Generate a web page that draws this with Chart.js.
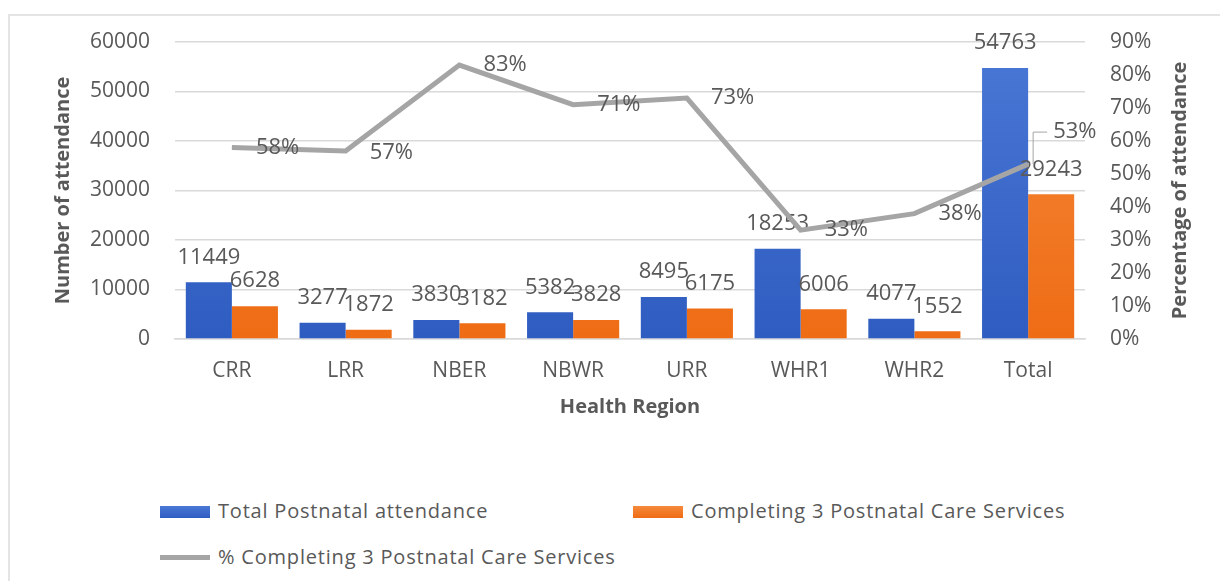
<!DOCTYPE html>
<html>
<head>
<meta charset="utf-8">
<script src="https://cdn.jsdelivr.net/npm/chart.js@4.4.0/dist/chart.umd.min.js"></script>
<style>
  body { margin: 0; background: #fff; font-family: 'Open Sans', sans-serif; color: #595959; }
  #frame { position: absolute; left: 8px; top: 14px; width: 1212px; height: 567px; border-top: 2px solid #e4e4e4; border-left: 2px solid #e4e4e4; }
  #wrap { position: absolute; left: 0; top: 0; width: 1220px; height: 430px; }
  .leg { position: absolute; font-size: 20px; letter-spacing: 0.8px; white-space: nowrap; line-height: 24px; }
  .sw { display: inline-block; width: 50px; height: 12px; vertical-align: middle; margin-right: 8px; position: relative; top: -1px; }
</style>
</head>
<body>
<div id="frame"></div>
<div id="wrap"><canvas id="chart"></canvas></div>
<div class="leg" style="left:160px; top:499px;"><span class="sw" style="background:linear-gradient(#4a78d6,#2f5cc0)"></span>Total Postnatal attendance</div>
<div class="leg" style="left:633px; top:499px;"><span class="sw" style="background:linear-gradient(#f68a3c,#ee6c14)"></span>Completing 3 Postnatal Care Services</div>
<div class="leg" style="left:160px; top:545px;"><span class="sw" style="background:#a5a5a5; height:5px"></span>% Completing 3 Postnatal Care Services</div>
<script>
var regions = ['CRR', 'LRR', 'NBER', 'NBWR', 'URR', 'WHR1', 'WHR2', 'Total']
var totalAttendance = [11449, 3277, 3830, 5382, 8495, 18253, 4077, 54763]
var completing = [6628, 1872, 3182, 3828, 6175, 6006, 1552, 29243]
var pctCompleting = [58, 57, 83, 71, 73, 33, 38, 53]
var leftTicks = [0, 10000, 20000, 30000, 40000, 50000, 60000]
var rightTicks = [0, 10, 20, 30, 40, 50, 60, 70, 80, 90]

var textColor = '#595959'
var labelFont = '22px "Open Sans"'

function barFill(top, bottom) {
    return function(c) {
        var ca = c.chart.chartArea
        if (!ca) return bottom
        var g = c.chart.ctx.createLinearGradient(0, ca.top, 0, ca.bottom)
        g.addColorStop(0, top)
        g.addColorStop(1, bottom)
        return g
    }
}

// bar value labels: drawn after the bars, before the line (blue first, orange on top)
var barLabels = {
    id: 'barLabels',
    beforeDatasetDraw: function(chart, args) {
        if (chart.data.datasets[args.index].type !== 'line') return
        var ctx = chart.ctx
        ctx.save()
        ctx.font = labelFont
        ctx.fillStyle = textColor
        ctx.textAlign = 'center'
        ctx.textBaseline = 'middle'
        chart.data.datasets.forEach(function(ds, di) {
            if (ds.type !== 'bar') return
            chart.getDatasetMeta(di).data.forEach(function(bar, i) {
                ctx.fillText(ds.data[i], bar.x, bar.y - 25)
            })
        })
        ctx.restore()
    }
}

// percentage labels + right axis title
var lineLabels = {
    id: 'lineLabels',
    afterDatasetsDraw: function(chart) {
        var ctx = chart.ctx
        var idx = chart.data.datasets.findIndex(function(d) { return d.type === 'line' })
        var meta = chart.getDatasetMeta(idx)
        ctx.save()
        ctx.font = labelFont
        ctx.fillStyle = textColor
        ctx.textAlign = 'left'
        ctx.textBaseline = 'middle'
        meta.data.forEach(function(pt, i) {
            var txt = pctCompleting[i] + '%'
            if (i === meta.data.length - 1) {
                var ly = pt.y - 32
                ctx.strokeStyle = '#a5a5a5'
                ctx.lineWidth = 1
                ctx.beginPath()
                ctx.moveTo(pt.x + 5, pt.y)
                ctx.lineTo(pt.x + 5, ly)
                ctx.lineTo(pt.x + 19, ly)
                ctx.stroke()
                ctx.fillText(txt, pt.x + 25, ly)
            } else {
                ctx.fillText(txt, pt.x + 24, pt.y + (i === 1 ? 2 : 0))
            }
        })
        var ca = chart.chartArea
        ctx.font = 'bold 20px "Open Sans"'
        ctx.textAlign = 'center'
        ctx.translate(1180, (ca.top + ca.bottom) / 2)
        ctx.rotate(-Math.PI / 2)
        ctx.fillText('Percentage of attendance', 0, 0)
        ctx.restore()
    }
}

var tickFont = { family: 'Open Sans', size: 21 }

var chart = new Chart(document.getElementById('chart').getContext('2d'), {
    data: {
        labels: regions,
        datasets: [{
            type: 'line',
            label: '% Completing 3 Postnatal Care Services',
            data: pctCompleting,
            yAxisID: 'y1',
            borderColor: '#a5a5a5',
            borderWidth: 5,
            pointRadius: 0,
            order: 0
        }, {
            type: 'bar',
            label: 'Total Postnatal attendance',
            data: totalAttendance,
            yAxisID: 'y',
            backgroundColor: barFill('#4a78d6', '#2f5cc0'),
            categoryPercentage: 0.81,
            barPercentage: 1.0,
            order: 1
        }, {
            type: 'bar',
            label: 'Completing 3 Postnatal Care Services',
            data: completing,
            yAxisID: 'y',
            backgroundColor: barFill('#f68a3c', '#ee6c14'),
            categoryPercentage: 0.81,
            barPercentage: 1.0,
            order: 1
        }]
    },
    options: {
        responsive: true,
        maintainAspectRatio: false,
        animation: false,
        layout: { padding: { top: 42, left: 0, right: 0, bottom: 0 } },
        scales: {
            x: {
                grid: { display: false, drawTicks: false },
                border: { display: true, color: '#d9d9d9', width: 1.5 },
                ticks: { color: textColor, font: tickFont, padding: 19 },
                title: { display: true, text: 'Health Region', color: textColor, font: { family: 'Open Sans', size: 20, weight: 'bold' }, padding: { top: 0, bottom: 11 } },
                afterFit: function(s) { s.height = 430 - 339 }
            },
            y: {
                position: 'left',
                min: 0,
                max: 60000,
                afterBuildTicks: function(s) { s.ticks = leftTicks.map(function(v) { return { value: v } }) },
                grid: { color: '#d9d9d9', lineWidth: 1.5, drawTicks: false },
                border: { display: false },
                ticks: { color: textColor, font: tickFont, padding: 25, callback: function(v) { return String(v) } },
                title: { display: true, text: 'Number of attendance', color: textColor, font: { family: 'Open Sans', size: 20, weight: 'bold' }, padding: { top: 51, bottom: 0 } },
                afterFit: function(s) { s.width = 175 }
            },
            y1: {
                position: 'right',
                min: 0,
                max: 90,
                afterBuildTicks: function(s) { s.ticks = rightTicks.map(function(v) { return { value: v } }) },
                grid: { display: false, drawTicks: false },
                border: { display: false },
                ticks: { color: textColor, font: tickFont, padding: 25, callback: function(v) { return v + '%' } },
                afterFit: function(s) { s.width = 1220 - 1085 }
            }
        },
        plugins: {
            legend: { display: false },
            tooltip: { enabled: false }
        }
    },
    plugins: [barLabels, lineLabels]
})
</script>
</body>
</html>
